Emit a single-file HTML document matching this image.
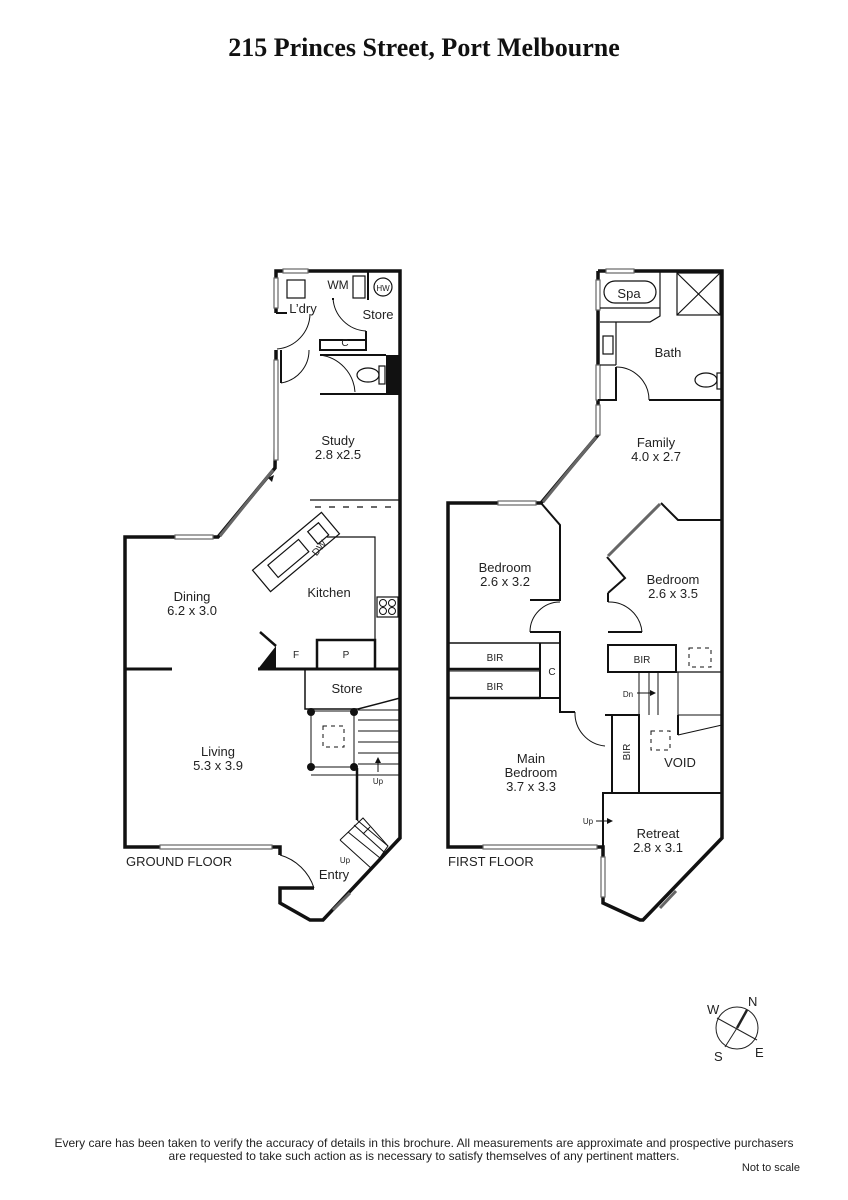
<!DOCTYPE html>
<html><head><meta charset="utf-8"><style>
html,body{margin:0;padding:0;background:#fff;}
svg{display:block}
text{font-family:"Liberation Sans",sans-serif;fill:#222}
</style></head><body>
<svg width="848" height="1200" viewBox="0 0 848 1200" xmlns="http://www.w3.org/2000/svg">
<text x="424" y="56" text-anchor="middle" style="font-family:'Liberation Serif',serif;font-weight:bold;font-size:26px;fill:#111">215 Princes Street, Port Melbourne</text>

<g fill="none" stroke="#111" stroke-width="3.5" stroke-linejoin="miter">
<polyline points="276,313 276,271 400,271 400,838 323,920 310,920 280,903 280,888 314,888"/>
<polyline points="280,855 280,847 125,847 125,537 218,537 275,468 276,385"/>
<polyline points="276,350 276,365"/>
<polyline points="598,271 722,271 722,838 643,920 640,920 603,903 603,847 448,847 448,503 541,503 598,435 598,271"/>
</g>

<g fill="#fff" stroke="#666" stroke-width="1.2">
<rect x="283" y="269" width="25" height="4"/>
<rect x="274" y="278" width="4" height="30"/>
<rect x="274" y="360" width="4" height="100"/>
<rect x="175" y="535" width="38" height="4"/>
<rect x="160" y="845" width="112" height="4"/>
<rect x="606" y="269" width="28" height="4"/>
<rect x="596" y="280" width="4" height="30"/>
<rect x="596" y="365" width="4" height="35"/>
<rect x="596" y="405" width="4" height="30"/>
<rect x="498" y="501" width="38" height="4"/>
<rect x="483" y="845" width="114" height="4"/>
<rect x="601" y="857" width="4" height="40"/>
</g>
<g stroke="#666" stroke-width="3" fill="none">
<line x1="220" y1="536" x2="273" y2="470"/>
<line x1="543" y1="502" x2="596" y2="437"/>
<line x1="608" y1="556" x2="660" y2="504"/>
<line x1="333" y1="910" x2="350" y2="893"/>
<line x1="660" y1="908" x2="676" y2="891"/>
</g>

<g fill="none" stroke="#111" stroke-width="2">
<polyline points="276,313 287,313"/>
<path d="M310,314 A36,36 0 0 1 277,349" stroke-width="1"/>
<polyline points="333,300 333,298"/>
<line x1="368" y1="271" x2="368" y2="300"/>
<rect x="353" y="276" width="12" height="22" stroke-width="1.2"/>
<rect x="287" y="280" width="18" height="18" stroke-width="1.2"/>
<circle cx="383" cy="287" r="9" stroke-width="1.2"/>
<path d="M333,298 A35,35 0 0 0 366,331" stroke-width="1"/>
<polyline points="366,331 366,340 320,340 320,350 366,350 366,340"/>
<polyline points="281,350 281,383"/>
<path d="M281,383 A33,33 0 0 0 309,350" stroke-width="1"/>
<polyline points="320,355 386,355"/>
<polyline points="320,394 400,394"/>
<path d="M320,355 A40,40 0 0 1 355,392" stroke-width="1"/>
<ellipse cx="368" cy="375" rx="11" ry="7" stroke-width="1.2"/>
<rect x="379" y="366" width="6" height="18" stroke-width="1.2"/>
<polyline points="310,500 400,500" stroke-width="1.2"/>
<line x1="315" y1="507" x2="400" y2="507" stroke-dasharray="6,8" stroke-width="1.2"/>
<g transform="translate(296,552) rotate(-40)" stroke-width="1.2">
<rect x="-45" y="-14" width="90" height="28"/>
<rect x="-30" y="-8" width="40" height="16"/>
<rect x="22" y="-8" width="14" height="16"/>
</g>
<polyline points="327,537 375,537 375,640" stroke-width="1.2"/>
<rect x="377" y="597" width="21" height="20" stroke-width="1.2"/>
<circle cx="383" cy="603" r="3.5" stroke-width="1"/><circle cx="392" cy="603" r="3.5" stroke-width="1"/>
<circle cx="383" cy="611" r="3.5" stroke-width="1"/><circle cx="392" cy="611" r="3.5" stroke-width="1"/>
<polyline points="317,668 317,640 375,640 375,668" stroke-width="2.5"/>
<line x1="260" y1="632" x2="276" y2="646" stroke-width="2.5"/>
<line x1="125" y1="669" x2="172" y2="669" stroke-width="3"/>
<line x1="258" y1="669" x2="400" y2="669" stroke-width="3"/>
<polyline points="305,669 305,709 358,709 400,698" stroke-width="1.5"/>
<rect x="311" y="711" width="43" height="56" stroke-width="1"/>
<rect x="323" y="726" width="21" height="21" stroke-dasharray="4,4" stroke-width="1"/>
<g stroke-width="1">
<line x1="358" y1="710" x2="400" y2="710"/><line x1="358" y1="720" x2="400" y2="720"/>
<line x1="358" y1="731" x2="400" y2="731"/><line x1="358" y1="742" x2="400" y2="742"/>
<line x1="358" y1="753" x2="400" y2="753"/><line x1="358" y1="764" x2="400" y2="764"/>
<line x1="311" y1="775" x2="400" y2="775"/>
<line x1="378" y1="772" x2="378" y2="760"/>
</g>
<polyline points="357,768 357,820" stroke-width="2.5"/>
<g stroke-width="1">
<polyline points="357,820 388,846"/>
<polyline points="340,840 363,818 388,846 372,869 340,840"/>
<line x1="348" y1="832" x2="380" y2="858"/>
<line x1="354" y1="825" x2="384" y2="852"/>
<path d="M280,855 A50,50 0 0 1 314,888"/>
</g>
</g>
<g fill="#111">
<rect x="386" y="355" width="14" height="39"/>
<polygon points="258,669 276,669 276,646"/>
<circle cx="311" cy="712" r="4"/><circle cx="354" cy="712" r="4"/>
<circle cx="311" cy="767" r="4"/><circle cx="354" cy="767" r="4"/>
<polygon points="378,757 375,763 381,763"/>
<polygon points="274,475 268,478 272,482"/>
</g>

<g fill="none" stroke="#111" stroke-width="2">
<g stroke-width="1.2">
<rect x="604" y="281" width="52" height="22" rx="11"/>
<line x1="600" y1="308" x2="660" y2="308"/>
<polyline points="600,322 650,322 660,316 660,271"/>
<rect x="677" y="273" width="43" height="42"/>
<line x1="677" y1="273" x2="720" y2="315"/><line x1="720" y1="273" x2="677" y2="315"/>
<line x1="616" y1="322" x2="616" y2="365"/>
<rect x="603" y="336" width="10" height="18"/>
<line x1="600" y1="365" x2="616" y2="365"/>
<ellipse cx="706" cy="380" rx="11" ry="7"/>
<rect x="717" y="373" width="5" height="16"/>
<path d="M616,367 A33,33 0 0 1 649,400" stroke-width="1"/>
</g>
<polyline points="598,400 616,400 616,367"/>
<polyline points="649,400 722,400"/>
<polyline points="541,503 560,525 560,600 530,600"/>
<path d="M530,632 A30,30 0 0 1 560,602" stroke-width="1"/>
<polyline points="530,632 560,632 560,712 575,712"/>
<path d="M575,712 A33,33 0 0 0 605,746" stroke-width="1"/>
<polyline points="608,593 608,602"/>
<polyline points="661,503 678,520 722,520"/>
<polyline points="607,557 625,578 608,593" stroke-width="2"/>
<path d="M608,602 A33,33 0 0 1 642,632" stroke-width="1"/>
<polyline points="608,632 642,632"/>
<polyline points="448,643 560,643" stroke-width="1.5"/>
<polyline points="448,669 540,669" stroke-width="2.5"/>
<polyline points="540,643 540,698 560,698"/>
<line x1="448" y1="671" x2="540" y2="671" stroke-width="1"/>
<line x1="448" y1="698" x2="540" y2="698" stroke-width="2.5"/>
<rect x="608" y="645" width="68" height="27"/>
<line x1="676" y1="672" x2="722" y2="672" stroke-width="1.2"/>
<rect x="689" y="648" width="22" height="19" stroke-dasharray="4,4" stroke-width="1"/>
<g stroke-width="1">
<line x1="639" y1="672" x2="639" y2="715"/><line x1="649" y1="672" x2="649" y2="715"/>
<line x1="658" y1="672" x2="658" y2="715"/><line x1="678" y1="672" x2="678" y2="715"/>
<line x1="678" y1="715" x2="722" y2="715"/>
<polyline points="678,735 722,725"/>
</g>
<polyline points="605,715 639,715 639,793"/>
<polyline points="612,715 612,793"/>
<line x1="678" y1="715" x2="678" y2="735" stroke-width="2"/>
<rect x="651" y="731" width="19" height="19" stroke-dasharray="4,4" stroke-width="1"/>
<polyline points="603,847 603,793 722,793"/>
</g>
<g fill="#111">
<polygon points="656,693 650,690 650,696"/>
<polygon points="613,821 607,818 607,824"/>
</g>
<g stroke="#111" stroke-width="1">
<line x1="637" y1="693" x2="652" y2="693"/>
<line x1="596" y1="821" x2="609" y2="821"/>
<line x1="363" y1="834" x2="370" y2="827"/>
</g>

<g font-size="13">
<text x="338" y="289" text-anchor="middle" font-size="12">WM</text>
<text x="383" y="291" text-anchor="middle" font-size="8">HW</text>
<text x="303" y="313" text-anchor="middle">L’dry</text>
<text x="378" y="319" text-anchor="middle">Store</text>
<text x="345" y="346" text-anchor="middle" font-size="10">C</text>
<text x="338" y="445" text-anchor="middle">Study</text>
<text x="338" y="459" text-anchor="middle">2.8 x2.5</text>
<text x="329" y="597" text-anchor="middle">Kitchen</text>
<text x="312" y="553" font-size="10" transform="rotate(-50 318 550)">DW</text>
<text x="192" y="601" text-anchor="middle">Dining</text>
<text x="192" y="615" text-anchor="middle">6.2 x 3.0</text>
<text x="296" y="658" text-anchor="middle" font-size="10">F</text>
<text x="346" y="658" text-anchor="middle" font-size="10">P</text>
<text x="347" y="693" text-anchor="middle">Store</text>
<text x="218" y="756" text-anchor="middle">Living</text>
<text x="218" y="770" text-anchor="middle">5.3 x 3.9</text>
<text x="378" y="784" text-anchor="middle" font-size="8">Up</text>
<text x="345" y="863" text-anchor="middle" font-size="8">Up</text>
<text x="334" y="879" text-anchor="middle">Entry</text>
<text x="126" y="866">GROUND FLOOR</text>

<text x="629" y="298" text-anchor="middle">Spa</text>
<text x="668" y="357" text-anchor="middle">Bath</text>
<text x="656" y="447" text-anchor="middle">Family</text>
<text x="656" y="461" text-anchor="middle">4.0 x 2.7</text>
<text x="505" y="572" text-anchor="middle">Bedroom</text>
<text x="505" y="586" text-anchor="middle">2.6 x 3.2</text>
<text x="673" y="584" text-anchor="middle">Bedroom</text>
<text x="673" y="598" text-anchor="middle">2.6 x 3.5</text>
<text x="495" y="661" text-anchor="middle" font-size="10">BIR</text>
<text x="495" y="690" text-anchor="middle" font-size="10">BIR</text>
<text x="552" y="675" text-anchor="middle" font-size="10">C</text>
<text x="642" y="663" text-anchor="middle" font-size="10">BIR</text>
<text x="628" y="697" text-anchor="middle" font-size="8">Dn</text>
<text x="630" y="758" text-anchor="middle" font-size="10" transform="rotate(-90 627 755)">BIR</text>
<text x="680" y="767" text-anchor="middle">VOID</text>
<text x="531" y="763" text-anchor="middle">Main</text>
<text x="531" y="777" text-anchor="middle">Bedroom</text>
<text x="531" y="791" text-anchor="middle">3.7 x 3.3</text>
<text x="588" y="824" text-anchor="middle" font-size="8">Up</text>
<text x="658" y="838" text-anchor="middle">Retreat</text>
<text x="658" y="852" text-anchor="middle">2.8 x 3.1</text>
<text x="448" y="866">FIRST FLOOR</text>
</g>

<g fill="none" stroke="#222" stroke-width="1">
<circle cx="737" cy="1028" r="21"/>
<line x1="717" y1="1018" x2="757" y2="1040"/>
<line x1="725" y1="1047" x2="737" y2="1028"/>
<line x1="737" y1="1028" x2="747" y2="1010" stroke-width="2.5"/>
</g>
<text x="707" y="1014" font-size="13">W</text>
<text x="748" y="1006" font-size="13">N</text>
<text x="714" y="1061" font-size="13">S</text>
<text x="755" y="1057" font-size="13">E</text>

<text x="424" y="1147" text-anchor="middle" font-size="12">Every care has been taken to verify the accuracy of details in this brochure.  All measurements are approximate and prospective purchasers</text>
<text x="424" y="1160" text-anchor="middle" font-size="12">are requested to take such action as is necessary to satisfy themselves of any pertinent matters.</text>
<text x="800" y="1171" text-anchor="end" font-size="11">Not to scale</text>
</svg>
</body></html>
